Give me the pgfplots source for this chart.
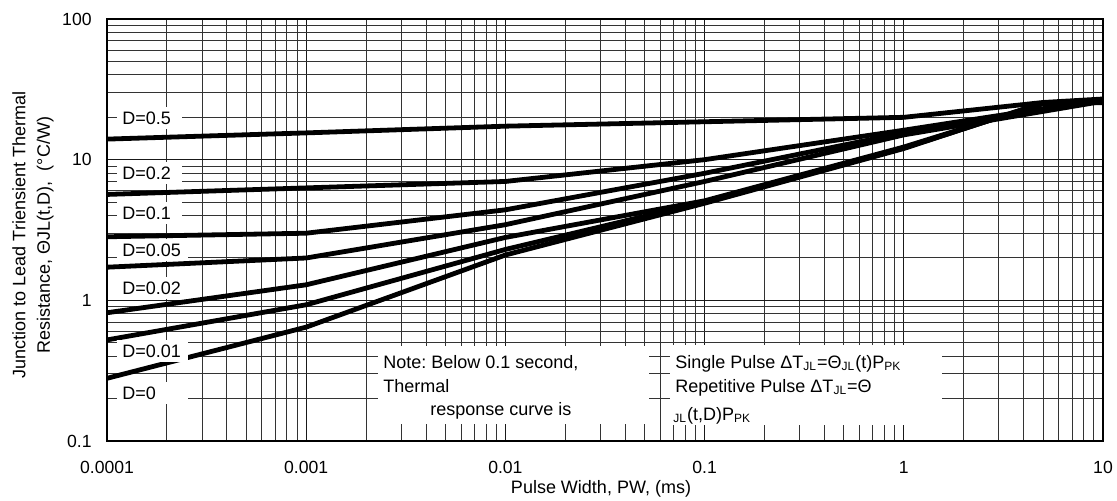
\documentclass[border=0pt]{standalone}
\usepackage{fontspec}
\setmainfont{Liberation Sans}
\usepackage{pgfplots}
\pgfplotsset{compat=1.18}
\begin{document}
\frenchspacing
\fontsize{9}{12}\selectfont
\begin{tikzpicture}
\useasboundingbox (-53.5pt,-30pt) rectangle (505pt,220.5pt);
\begin{axis}[
  scale only axis, width=498pt, height=211pt,
  xmode=log, ymode=log,
  xmin=1e-4, xmax=10, ymin=0.1, ymax=100,
  xtick={1e-4,1e-3,1e-2,1e-1,1,10},
  xticklabels={0.0001,0.001,0.01,0.1,1,10},
  ytick={0.1,1,10,100}, yticklabels={0.1,1,10,100},
  minor xtick={2e-4,3e-4,4e-4,5e-4,6e-4,7e-4,8e-4,9e-4,
    0.002,0.003,0.004,0.005,0.006,0.007,0.008,0.009,
    0.02,0.03,0.04,0.05,0.06,0.07,0.08,0.09,
    0.2,0.3,0.4,0.5,0.6,0.7,0.8,0.9,
    2,3,4,5,6,7,8,9},
  minor ytick={0.2,0.3,0.4,0.5,0.6,0.7,0.8,0.9,
    2,3,4,5,6,7,8,9,20,30,40,50,60,70,80,90},
  grid=both,
  major grid style={line width=0.5pt, draw=black!90},
  minor grid style={line width=0.5pt, draw=black!80},
  major tick length=0pt, minor tick length=0pt,
  axis line style={line width=1.2pt},
  tick label style={font=\fontsize{8.8}{10}\selectfont},
  /pgf/number format/assume math mode=true,
  xticklabel style={yshift=-7pt},
  yticklabel style={xshift=-4.5pt},
  curve/.style={black, solid, line width=2.4pt, mark=none},
]
% D=0.5
\addplot[curve] coordinates {(1e-4,14.0) (1e-3,15.5) (1e-2,17.3) (1e-1,18.6) (1,20.0) (5,25.5) (10,27.0)};
% D=0.2
\addplot[curve] coordinates {(1e-4,5.66) (1e-3,6.3) (1e-2,7.0) (1e-1,10.0) (1,16.2) (10,26.8)};
% D=0.1
\addplot[curve] coordinates {(1e-4,2.83) (1e-3,3.0) (1e-2,4.4) (1e-1,8.0) (1,15.5) (10,26.4)};
% D=0.05
\addplot[curve] coordinates {(1e-4,1.72) (1e-3,2.0) (1e-2,3.45) (1e-1,7.0) (1,15.0) (10,26.0)};
% D=0.02
\addplot[curve] coordinates {(1e-4,0.816) (1e-3,1.29) (1e-2,2.8) (1e-1,5.1) (1,12.3) (5,25.0) (10,25.8)};
% D=0.01
\addplot[curve] coordinates {(1e-4,0.523) (1e-3,0.93) (1e-2,2.3) (1e-1,5.0) (1,12.1) (5,25.2) (10,25.6)};
% D=0
\addplot[curve] coordinates {(1e-4,0.279) (1e-3,0.645) (1e-2,2.1) (1e-1,4.9) (1,12.0) (5,25.4) (10,25.4)};
\end{axis}
% label boxes
\fill[white] (5pt,156pt) rectangle (37.5pt,167pt);
\fill[white] (5pt,128.5pt) rectangle (37.5pt,139.5pt);
\fill[white] (5pt,108.5pt) rectangle (37.5pt,119.5pt);
\fill[white] (5pt,90pt) rectangle (40.5pt,101pt);
\fill[white] (5pt,71pt) rectangle (40.5pt,82pt);
\fill[white] (5pt,39.5pt) rectangle (40.5pt,50.5pt);
\fill[white] (5pt,18.5pt) rectangle (40.5pt,29.5pt);
\begin{scope}[every node/.style={anchor=base west, inner sep=0pt}]
\node at (7.5pt,158.3pt) {D=0.5};
\node at (7.5pt,130.8pt) {D=0.2};
\node at (7.5pt,110.8pt) {D=0.1};
\node at (7.5pt,92.3pt) {D=0.05};
\node at (7.5pt,73.3pt) {D=0.02};
\node at (7.5pt,41.8pt) {D=0.01};
\node at (7.5pt,20.8pt) {D=0};
\end{scope}
% note boxes
\fill[white] (135.5pt,8.5pt) rectangle (271pt,47.5pt);
\fill[white] (281.5pt,8pt) rectangle (417.5pt,48pt);
\begin{scope}[every node/.style={anchor=base west, inner sep=0pt}]
\node at (138pt,36.4pt) {Note: Below 0.1 second,};
\node at (138pt,24.3pt) {Thermal};
\node at (161.5pt,12.6pt) {response curve is};
\node at (284pt,36.4pt) {Single Pulse ΔT\textsubscript{JL}=Θ\textsubscript{JL}(t)P\textsubscript{PK}};
\node at (284pt,24.3pt) {Repetitive Pulse ΔT\textsubscript{JL}=Θ};
\node at (283pt,10.3pt) {\textsubscript{JL}(t,D)P\textsubscript{PK}};
\end{scope}
% axis labels
\node[rotate=90, align=center, font=\fontsize{9}{12.25}\selectfont] at (-37pt,103pt)
  {Junction to Lead Triensient Thermal\\Resistance, ΘJL(t,D),\ \ (°C/W)};
\node[font=\fontsize{9}{11}\selectfont] at (247pt,-24pt) {Pulse Width, PW, (ms)};
\end{tikzpicture}
\end{document}
